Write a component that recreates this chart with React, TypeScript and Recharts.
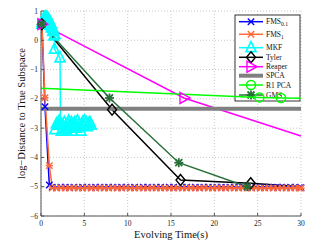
import React from 'react';
import { LineChart, Line, XAxis, YAxis, CartesianGrid, Customized } from 'recharts';

const X_TICKS = [0, 5, 10, 15, 20, 25, 30];
const Y_TICKS = [-6, -5, -4, -3, -2, -1, 0, 1];

// shared plateau times for the FMS series
const FLAT_T = [1.3, 1.8, 2.3, 2.8, 3.3, 3.8, 4.3, 4.8, 5.3, 5.8, 6.3, 6.8, 7.3, 7.8, 8.3, 8.8, 9.3, 9.8, 10.3, 10.8, 11.3, 11.8, 12.3, 12.8, 13.3, 13.8, 14.3, 14.8, 15.3, 15.8, 16.3, 16.8, 17.3, 17.8, 18.3, 18.8, 19.3, 19.8, 20.3, 20.8, 21.3, 21.8, 22.3, 22.8, 23.3, 23.8, 24.3, 24.8, 25.3, 25.8, 26.3, 26.8, 27.3, 27.8, 28.3, 28.8, 29.3, 29.8];

const FMS01_HEAD_T = [0.1, 0.46, 0.96];
const FMS01_HEAD_Y = [0.55, -2.27, -4.94];
const FMS01_FLAT_Y = [-5.02, -5.03, -5.02, -5.02, -5.03, -5.02, -5.03, -5.02, -5.02, -5.03, -5.02, -5.02, -5.03, -5.02, -5.02, -5.03, -5.02, -5.02, -5.03, -5.02, -5.03, -5.02, -5.02, -5.03, -5.02, -5.02, -5.03, -5.02, -5.02, -5.03, -5.02, -5.02, -5.03, -5.02, -5.03, -5.02, -5.02, -5.03, -5.02, -5.02, -5.03, -5.02, -5.02, -5.03, -5.02, -5.02, -5.03, -5.02, -5.03, -5.02, -5.02, -5.03, -5.02, -5.02, -5.03, -5.02, -5.02, -5.03];

const FMS1_HEAD_T = [0.1, 0.46, 0.96];
const FMS1_HEAD_Y = [0.55, -1.96, -4.28];
const FMS1_FLAT_Y = [-5.05, -5.05, -5.04, -5.05, -5.05, -5.04, -5.05, -5.05, -5.04, -5.05, -5.05, -5.04, -5.05, -5.05, -5.04, -5.05, -5.05, -5.04, -5.05, -5.05, -5.04, -5.05, -5.05, -5.04, -5.05, -5.05, -5.04, -5.05, -5.05, -5.04, -5.05, -5.05, -5.04, -5.05, -5.05, -5.04, -5.05, -5.05, -5.04, -5.05, -5.05, -5.04, -5.05, -5.05, -5.04, -5.05, -5.05, -5.04, -5.05, -5.05, -5.04, -5.05, -5.05, -5.04, -5.05, -5.05, -5.04, -5.05];

const MKF_T = [0.1, 0.15, 0.2, 0.3, 0.35, 0.45, 0.55, 0.6, 0.7, 0.75, 0.85, 0.9, 1.0, 1.05, 1.15, 1.2, 1.3, 1.35, 1.45, 1.5, 1.6, 1.55, 2.2, 2.25, 1.6, 1.8, 2.0, 2.1, 2.35, 2.5, 2.7, 2.8, 2.9, 3.1, 3.2, 3.4, 3.5, 3.6, 3.8, 3.9, 4.1, 4.2, 4.4, 4.5, 4.6, 4.8, 4.9, 5.0, 5.2, 5.35, 5.5, 5.65, 5.8];
const MKF_Y = [0.55, 0.62, 0.68, 0.72, 0.76, 0.78, 0.8, 0.76, 0.78, 0.7, 0.72, 0.62, 0.66, 0.52, 0.58, 0.42, 0.46, 0.3, 0.35, 0.15, 0.2, -0.3, -0.6, -2.85, -3.05, -2.85, -2.9, -2.75, -3.1, -2.9, -2.8, -3.0, -3.05, -2.85, -2.75, -2.95, -2.8, -3.1, -2.9, -2.8, -3.0, -2.75, -2.85, -2.95, -3.1, -2.8, -2.9, -2.75, -2.8, -2.95, -2.85, -2.8, -2.9];

const TYLER_T = [0.1, 8.2, 16.1, 24.2, 30];
const TYLER_Y = [0.55, -2.37, -4.77, -4.88, -5.0];

const REAPER_T = [0.1, 16.5, 30];
const REAPER_Y = [0.55, -1.97, -3.27];

const SPCA_T = [0, 30];
const SPCA_Y = [-2.34, -2.34];

const R1PCA_T = [0, 25.2, 27.7, 30];
const R1PCA_Y = [-1.64, -1.95, -1.97, -1.98];

const GMS_T = [0.1, 7.9, 15.9, 23.8, 30];
const GMS_Y = [0.55, -1.97, -4.18, -5.0, -5.02];

const toData = (t: number[], y: number[]) => t.map((x, i) => ({ x, y: y[i] }));

type MarkerKind = 'x' | 'ast' | 'tri' | 'diamond' | 'right' | 'none' | 'circle' | 'star';

interface Series {
  key: string;
  name: string;
  sub?: string;
  color: string;
  width: number;
  marker: MarkerKind;
  data: { x: number; y: number }[];
  skip: number[];
}

const SERIES: Series[] = [
  { key: 'fms01', name: 'FMS', sub: '0.1', color: '#0000ff', width: 1.5, marker: 'x', data: toData([...FMS01_HEAD_T, ...FLAT_T, 30], [...FMS01_HEAD_Y, ...FMS01_FLAT_Y, -5.03]), skip: [] },
  { key: 'fms1', name: 'FMS', sub: '1', color: '#ff6a3a', width: 1.5, marker: 'ast', data: toData([...FMS1_HEAD_T, ...FLAT_T, 30], [...FMS1_HEAD_Y, ...FMS1_FLAT_Y, -5.05]), skip: [] },
  { key: 'mkf', name: 'MKF', color: '#00ffff', width: 1.5, marker: 'tri', data: toData(MKF_T, MKF_Y), skip: [] },
  { key: 'tyler', name: 'Tyler', color: '#000000', width: 1.5, marker: 'diamond', data: toData(TYLER_T, TYLER_Y), skip: [4] },
  { key: 'reaper', name: 'Reaper', color: '#ff00ff', width: 1.5, marker: 'right', data: toData(REAPER_T, REAPER_Y), skip: [2] },
  { key: 'spca', name: 'SPCA', color: '#808080', width: 4, marker: 'none', data: toData(SPCA_T, SPCA_Y), skip: [] },
  { key: 'r1pca', name: 'R1 PCA', color: '#00ff00', width: 1.5, marker: 'circle', data: toData(R1PCA_T, R1PCA_Y), skip: [0, 3] },
  { key: 'gms', name: 'GMS', color: '#267038', width: 1.5, marker: 'star', data: toData(GMS_T, GMS_Y), skip: [4] },
];

const FONT = '"Liberation Serif", "DejaVu Serif", serif';
const Y_LABEL = 'log\u2212Distance to True Subspace';
const X_LABEL = 'Evolving Time(s)';

function marker(kind: MarkerKind, cx: number, cy: number, color: string, key: string) {
  switch (kind) {
    case 'x':
      return (
        <g key={key} stroke={color} strokeWidth={1.4} fill="none">
          <line x1={cx - 3.2} y1={cy - 3.2} x2={cx + 3.2} y2={cy + 3.2} />
          <line x1={cx - 3.2} y1={cy + 3.2} x2={cx + 3.2} y2={cy - 3.2} />
        </g>
      );
    case 'ast':
      return (
        <g key={key} stroke={color} strokeWidth={1.4} fill="none">
          <line x1={cx - 3.2} y1={cy - 3.2} x2={cx + 3.2} y2={cy + 3.2} />
          <line x1={cx - 3.2} y1={cy + 3.2} x2={cx + 3.2} y2={cy - 3.2} />
          <line x1={cx - 3.6} y1={cy} x2={cx + 3.6} y2={cy} />
        </g>
      );
    case 'star':
      return (
        <g key={key} stroke={color} strokeWidth={1.8} fill="none">
          <line x1={cx - 3.5} y1={cy - 3.5} x2={cx + 3.5} y2={cy + 3.5} />
          <line x1={cx - 3.5} y1={cy + 3.5} x2={cx + 3.5} y2={cy - 3.5} />
          <line x1={cx} y1={cy - 4.5} x2={cx} y2={cy + 4.5} />
          <line x1={cx - 4.5} y1={cy} x2={cx + 4.5} y2={cy} />
        </g>
      );
    case 'tri':
      return (
        <polygon key={key} points={`${cx},${cy - 6} ${cx - 5},${cy + 4} ${cx + 5},${cy + 4}`} stroke={color} strokeWidth={1.7} fill="none" />
      );
    case 'diamond':
      return (
        <polygon key={key} points={`${cx},${cy - 5.5} ${cx + 4.5},${cy} ${cx},${cy + 5.5} ${cx - 4.5},${cy}`} stroke={color} strokeWidth={1.4} fill="none" />
      );
    case 'right':
      return (
        <polygon key={key} points={`${cx + 6},${cy} ${cx - 4},${cy - 5.5} ${cx - 4},${cy + 5.5}`} stroke={color} strokeWidth={1.4} fill="none" />
      );
    case 'circle':
      return <circle key={key} cx={cx} cy={cy} r={4.5} stroke={color} strokeWidth={1.5} fill="none" />;
    default:
      return <g key={key} />;
  }
}

const fmt = (v: number) => (v < 0 ? `\u2212${Math.abs(v)}` : `${v}`);

const XTick = (props: any) => {
  const { x, y, payload } = props;
  return (
    <g>
      <line x1={x} y1={y} x2={x} y2={y - 3} stroke="#555" strokeWidth={1} />
      <text x={x} y={y + 10} textAnchor="middle" fontSize={7.5} fontFamily={FONT} fill="#222">
        {fmt(payload.value)}
      </text>
    </g>
  );
};

const YTick = (props: any) => {
  const { x, y, payload } = props;
  return (
    <g>
      <line x1={x} y1={y} x2={x + 3} y2={y} stroke="#555" strokeWidth={1} />
      <text x={x - 3} y={y + 2.5} textAnchor="end" fontSize={7.5} fontFamily={FONT} fill="#222">
        {fmt(payload.value)}
      </text>
    </g>
  );
};

const LegendBox = () => {
  const left = 235;
  const top = 15;
  const rows = [21.7, 34.3, 47.7, 57.3, 66.7, 75.7, 85, 95];
  return (
    <g>
      <rect x={left} y={top} width={65} height={86} fill="#fff" stroke="#000" strokeWidth={0.8} />
      {SERIES.map((s, i) => {
        const y = rows[i];
        return (
          <g key={s.key}>
            <line x1={left + 4} y1={y} x2={left + 28} y2={y} stroke={s.color} strokeWidth={s.width} />
            {marker(s.marker, left + 16, y, s.color, `lm${i}`)}
            <text x={left + 31} y={y + 2.5} fontSize={7.5} fontFamily={FONT} fill="#111">
              {s.name}
              {s.sub ? <tspan fontSize={5.5} dy={2}>{s.sub}</tspan> : null}
            </text>
          </g>
        );
      })}
    </g>
  );
};

export default function App() {
  return (
    <div style={{ position: 'absolute', left: 0, top: 0, background: '#fff' }}>
      <LineChart width={329} height={242} margin={{ top: 11, right: 28, bottom: 6, left: 11 }}>
        <CartesianGrid stroke="#bdbdbd" strokeDasharray="1 2" strokeWidth={0.8} />
        <XAxis
          type="number"
          dataKey="x"
          domain={[0, 30]}
          ticks={X_TICKS}
          height={20}
          tickSize={0}
          tickMargin={0}
          tick={<XTick />}
          stroke="#555"
          interval={0}
          label={{
            content: (p: any) => (
              <text x={p.viewBox.x + p.viewBox.width / 2} y={p.viewBox.y + 22} textAnchor="middle" fontSize={10.5} fontFamily={FONT} fill="#111">
                {X_LABEL}
              </text>
            ),
          }}
        />
        <YAxis
          type="number"
          dataKey="y"
          domain={[-6, 1]}
          ticks={Y_TICKS}
          width={30}
          tickSize={0}
          tickMargin={0}
          tick={<YTick />}
          stroke="#555"
          interval={0}
          label={{
            content: (p: any) => {
              const cx = p.viewBox.x + 14;
              const cy = p.viewBox.y + p.viewBox.height / 2;
              return (
                <text x={cx} y={cy} transform={`rotate(-90 ${cx} ${cy})`} textAnchor="middle" fontSize={10.5} fontFamily={FONT} fill="#111">
                  {Y_LABEL}
                </text>
              );
            },
          }}
        />
        {SERIES.map((s) => (
          <Line
            key={s.key}
            data={s.data}
            dataKey="y"
            name={s.name}
            type="linear"
            stroke={s.color}
            strokeWidth={s.width}
            isAnimationActive={false}
            activeDot={false}
            dot={(p: any) => {
              const k = `${s.key}-${p.index}`;
              if (s.marker === 'none' || s.skip.includes(p.index) || p.cx == null || p.cy == null) return <g key={k} />;
              return marker(s.marker, p.cx, p.cy, s.color, k);
            }}
          />
        ))}
        <Customized component={LegendBox} />
      </LineChart>
    </div>
  );
}
